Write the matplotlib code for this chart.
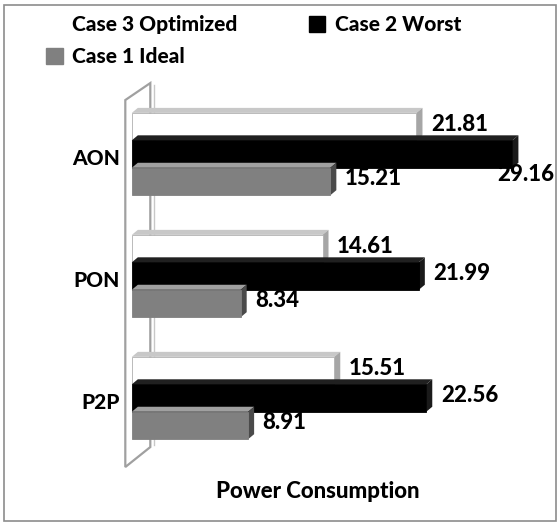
import matplotlib
matplotlib.use("Agg")
import matplotlib.pyplot as plt
from matplotlib.patches import Polygon, Rectangle, Patch
import numpy as np

categories = ["P2P", "PON", "AON"]
series_names = ["Case 3 Optimized", "Case 2 Worst", "Case 1 Ideal"]
optimized = [15.51, 14.61, 21.81]
worst = [22.56, 21.99, 29.16]
ideal = [8.91, 8.34, 15.21]
xlabel = "Power Consumption"

FONT = ["Lato", "DejaVu Sans"]
WEIGHT = 900
plt.rcParams['font.family'] = FONT

W, H = 560, 526
fig = plt.figure(figsize=(W / 100, H / 100), dpi=100)

# outer frame
fig.patches.append(Rectangle((4 / W, 5 / H), 552 / W, 516 / H, transform=fig.transFigure,
                             fill=False, edgecolor="#8c8c8c", linewidth=1.2))

ax_l, ax_r, ax_t, ax_b = 124, 556, 80, 480
ax = fig.add_axes([ax_l / W, (H - ax_b) / H, (ax_r - ax_l) / W, (ax_b - ax_t) / H])
ax.set_xlim(-0.6, 32.5)
ax.set_ylim(-0.672, 2.607)
ax.axis("off")

xs_per_px = (32.5 + 0.6) / (ax_r - ax_l)
ys_per_px = (2.607 + 0.672) / (ax_b - ax_t)
dx = 6 * xs_per_px
dy = 5 * ys_per_px
h = 0.225
offsets = [h, 0.0, -h]

styles = [
    dict(front="#ffffff", edge="#b0b0b0", side="#a6a6a6", top="#c8c8c8"),
    dict(front="#000000", edge="#000000", side="#1a1a1a", top="#202020"),
    dict(front="#808080", edge="#808080", side="#4a4a4a", top="#a0a0a0"),
]

# side wall (3D floor on the left)
wx0, wx1 = -0.5, -0.5 + 25 * xs_per_px
wy_front = (2 + (154 - 100) * ys_per_px, 2 + (154 - 467) * ys_per_px)
wy_back = (2 + (154 - 83) * ys_per_px, 2 + (154 - 447) * ys_per_px)
wall = Polygon([(wx0, wy_front[0]), (wx1, wy_back[0]), (wx1, wy_back[1]), (wx0, wy_front[1])],
               closed=True, facecolor="white", edgecolor="#a0a0a0", linewidth=1.6, zorder=1)
ax.add_patch(wall)
ax.plot([wx1 + 0.25, wx1 + 0.25], [wy_back[0] - 0.02, wy_back[1] + 0.02], color="#c8c8c8",
        linewidth=1.0, zorder=1)

y = np.arange(len(categories))
all_vals = [optimized, worst, ideal]
for gi in range(len(categories)):
    for si, vals in enumerate(all_vals):
        st = styles[si]
        v = vals[gi]
        yc = y[gi] + offsets[si]
        y0, y1 = yc - h / 2, yc + h / 2
        z = 3 + gi * 3 + si
        top = Polygon([(0, y1), (v, y1), (v + dx, y1 + dy), (dx, y1 + dy)], closed=True,
                      facecolor=st["top"], edgecolor="none", zorder=z)
        side = Polygon([(v, y0), (v + dx, y0 + dy), (v + dx, y1 + dy), (v, y1)], closed=True,
                       facecolor=st["side"], edgecolor="none", zorder=z)
        ax.add_patch(top)
        ax.add_patch(side)
        ax.barh(yc, v, height=h, left=0, color=st["front"], edgecolor=st["edge"],
                linewidth=0.6, zorder=z + 0.1)
        tx = v + 14.5 * xs_per_px
        ty = yc + dy / 2
        ha = "left"
        if tx + 4.8 > 32.5:
            tx = 32.35
            ha = "right"
            ty = yc - 20 * ys_per_px
        ax.text(tx, ty, f"{v:.2f}", ha=ha, va="center", fontsize=16, fontweight=WEIGHT,
                color="black", zorder=20)

for gi, c in enumerate(categories):
    ax.text(-0.9, y[gi] - 4 * ys_per_px, c, ha="right", va="center", fontsize=15,
            fontweight=WEIGHT, clip_on=False)

fig.text(318 / W, 1 - 492 / H, xlabel, ha="center", va="center", fontsize=16, fontweight=WEIGHT)

# legend (row-wise order: Optimized, Worst / Ideal)
hdl = [Patch(facecolor="white", edgecolor="white"),
       Patch(facecolor="#808080", edgecolor="#808080"),
       Patch(facecolor="black", edgecolor="black")]
lbl = [series_names[0], series_names[2], series_names[1]]
fig.legend(hdl, lbl, ncol=2, loc="upper left", bbox_to_anchor=(38 / W, 1 - 7 / H),
           frameon=False, prop=dict(family=FONT, weight=WEIGHT, size=15),
           handlelength=0.8, handleheight=0.8, handletextpad=0.45, columnspacing=3.4,
           labelspacing=0.6, borderaxespad=0)

fig.savefig("out.png", dpi=100)
